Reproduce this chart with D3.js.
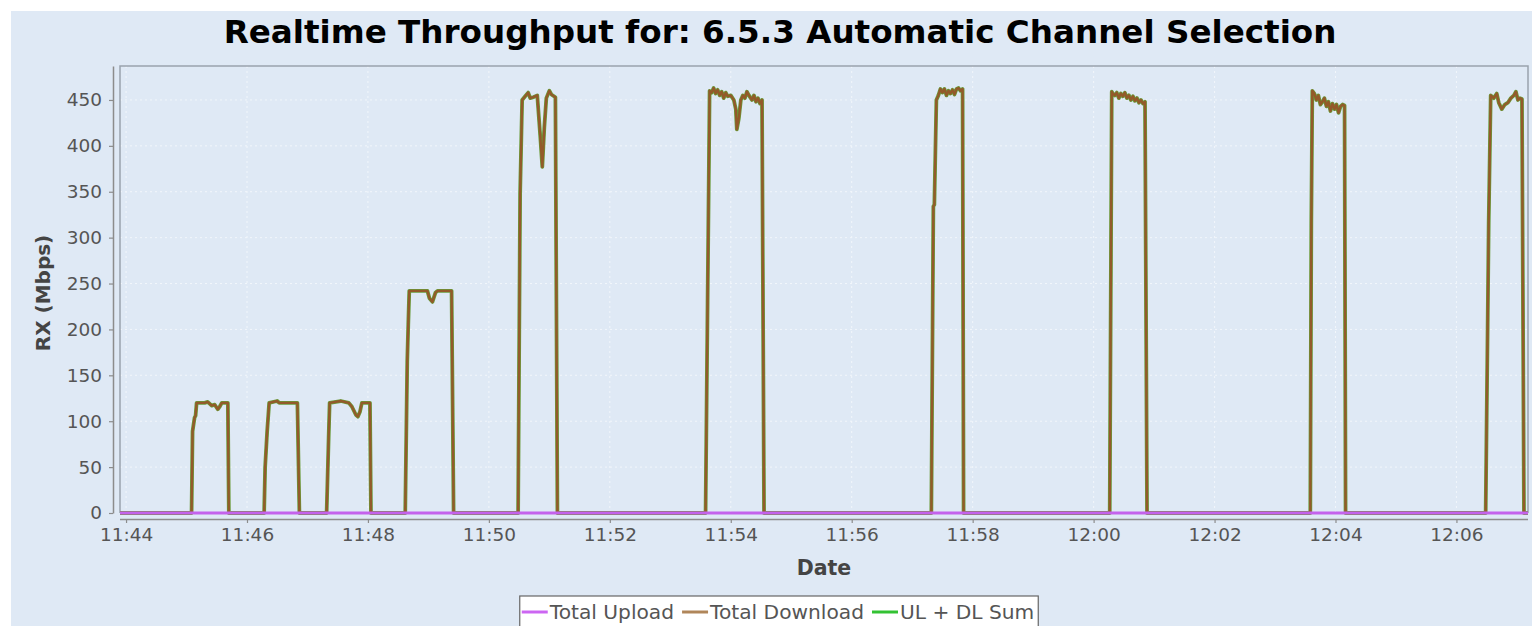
<!DOCTYPE html>
<html>
<head>
<meta charset="utf-8">
<script src="https://cdn.jsdelivr.net/npm/d3@7"></script>
<style>
  html, body { margin: 0; padding: 0; background: #ffffff; }
  svg { display: block; }
  text { font-family: "DejaVu Sans", sans-serif; }
</style>
</head>
<body>
<svg id="chart" width="1532" height="626"></svg>
<script>
// Sample timestamps (one row per test run)
const sampleTimes = [
  "11:43:54",
  "11:45:05","11:45:06","11:45:08","11:45:09","11:45:10","11:45:18","11:45:21","11:45:25","11:45:28","11:45:31","11:45:33","11:45:35","11:45:41","11:45:42",
  "11:46:17","11:46:18","11:46:20","11:46:22","11:46:30","11:46:32","11:46:50","11:46:52",
  "11:47:19","11:47:21","11:47:22","11:47:33","11:47:41","11:47:44","11:47:48","11:47:50","11:47:52","11:47:54","11:48:02","11:48:03",
  "11:48:37","11:48:39","11:48:40","11:48:41","11:48:59","11:49:01","11:49:04","11:49:07","11:49:09","11:49:23","11:49:25",
  "11:50:29","11:50:31","11:50:33","11:50:36","11:50:39","11:50:41","11:50:44","11:50:48","11:50:51","11:50:53","11:50:55","11:50:57","11:51:00","11:51:02","11:51:06","11:51:08",
  "11:53:35","11:53:37","11:53:39","11:53:41","11:53:43","11:53:45","11:53:47","11:53:49","11:53:51","11:53:53","11:53:55","11:53:57","11:54:00","11:54:03","11:54:05","11:54:06","11:54:08","11:54:10","11:54:12","11:54:14","11:54:16","11:54:18","11:54:21","11:54:23","11:54:25","11:54:27","11:54:29","11:54:31","11:54:33",
  "11:57:19","11:57:21","11:57:22","11:57:24","11:57:26","11:57:28","11:57:30","11:57:32","11:57:34","11:57:36","11:57:38","11:57:40","11:57:42","11:57:44","11:57:46","11:57:48","11:57:50","11:57:51",
  "12:00:16","12:00:18","12:00:19","12:00:21","12:00:23","12:00:25","12:00:27","12:00:29","12:00:31","12:00:33","12:00:35","12:00:37","12:00:39","12:00:41","12:00:43","12:00:45","12:00:47","12:00:49","12:00:51","12:00:53",
  "12:03:35","12:03:36","12:03:37","12:03:39","12:03:41","12:03:43","12:03:45","12:03:47","12:03:49","12:03:51","12:03:53","12:03:55","12:03:57","12:03:59","12:04:01","12:04:03","12:04:05","12:04:07","12:04:09","12:04:10",
  "12:06:29","12:06:31","12:06:32","12:06:34","12:06:37","12:06:40","12:06:42","12:06:45","12:06:48","12:06:51","12:06:54","12:06:57","12:06:59","12:07:01","12:07:03","12:07:05","12:07:07",
  "12:07:11"
];

// Total Download, Mbps
const totalDownload = [
  0,
  0,89,104,106,120,120,121,117,118,113,116,120,120,0,
  0,50,89,120,122,120,120,0,
  0,82,120,122,120,116,107,105,110,120,120,0,
  0,165,205,242,242,234,230,240,242,242,0,
  0,348,450,454,458,452,453,455,410,377,420,452,460,456,453,0,
  0,230,460,458,463,457,461,455,459,452,458,454,455,450,440,418,430,450,455,452,459,455,450,455,448,452,446,450,0,
  0,334,336,450,455,462,458,462,455,460,457,461,456,462,463,460,462,0,
  0,459,457,455,458,452,457,454,458,452,455,450,454,449,452,447,450,446,448,0,
  0,316,460,457,450,455,445,448,452,443,448,438,446,440,445,436,443,445,444,0,
  0,208,317,455,452,457,447,440,445,447,452,455,459,450,452,451,0,
  0
];

// Total Upload, Mbps
const totalUpload = [
  0,
  0,0,0,0,0,0,0,0,0,0,0,0,0,0,
  0,0,0,0,0,0,0,0,
  0,0,0,0,0,0,0,0,0,0,0,0,
  0,0,0,0,0,0,0,0,0,0,0,
  0,0,0,0,0,0,0,0,0,0,0,0,0,0,0,0,
  0,0,0,0,0,0,0,0,0,0,0,0,0,0,0,0,0,0,0,0,0,0,0,0,0,0,0,0,0,
  0,0,0,0,0,0,0,0,0,0,0,0,0,0,0,0,0,0,
  0,0,0,0,0,0,0,0,0,0,0,0,0,0,0,0,0,0,0,0,
  0,0,0,0,0,0,0,0,0,0,0,0,0,0,0,0,0,0,0,0,
  0,0,0,0,0,0,0,0,0,0,0,0,0,0,0,0,0,
  0
];

const yTickValues = [0, 50, 100, 150, 200, 250, 300, 350, 400, 450];
const seriesNames = ["Total Upload", "Total Download", "UL + DL Sum"];
const titleText = "Realtime Throughput for: 6.5.3 Automatic Channel Selection";

const parseTime = d3.timeParse("%H:%M:%S");
const rows = sampleTimes.map((s, i) => ({
  t: parseTime(s),
  up: totalUpload[i],
  down: totalDownload[i],
  sum: totalUpload[i] + totalDownload[i]
}));

const svg = d3.select("#chart");
const W = 1532, H = 626;
const plot = { left: 120, right: 1528, top: 66, bottom: 513 };

// panel background
svg.append("rect").attr("x", 11).attr("y", 11).attr("width", W - 11).attr("height", H - 11)
  .attr("fill", "#dfe9f5");

const x = d3.scaleTime()
  .domain(d3.extent(rows, d => d.t))
  .range([plot.left, plot.right]);
const y = d3.scaleLinear()
  .domain([0, 487])
  .range([plot.bottom, plot.top]);

const xTicks = x.ticks(d3.timeMinute.every(2));

// grid
const grid = svg.append("g");
grid.selectAll(".gy").data(yTickValues.filter(v => v > 0)).join("line")
  .attr("x1", plot.left).attr("x2", plot.right)
  .attr("y1", d => y(d)).attr("y2", d => y(d))
  .attr("stroke", "#f2f6fb").attr("stroke-width", 1).attr("stroke-dasharray", "2,3");
grid.selectAll(".gx").data(xTicks).join("line")
  .attr("x1", d => x(d)).attr("x2", d => x(d))
  .attr("y1", plot.top).attr("y2", plot.bottom)
  .attr("stroke", "#f2f6fb").attr("stroke-width", 1).attr("stroke-dasharray", "2,3");

// plot outline
svg.append("path")
  .attr("d", `M${plot.left},${plot.bottom}V${plot.top}H${plot.right}V${plot.bottom}`)
  .attr("fill", "none").attr("stroke", "#9aa3ad").attr("stroke-width", 1.5);

// series lines
svg.append("clipPath").attr("id", "plotClip").append("rect")
  .attr("x", plot.left).attr("y", plot.top - 2)
  .attr("width", plot.right - plot.left).attr("height", plot.bottom - plot.top + 4);

const lineFor = key => d3.line().x(d => x(d.t)).y(d => y(d[key]));
const lines = svg.append("g").attr("clip-path", "url(#plotClip)");
lines.append("path").datum(rows).attr("d", lineFor("sum"))
  .attr("fill", "none").attr("stroke", "#6a9a38").attr("stroke-width", 3.8)
  .attr("stroke-linejoin", "round");
lines.append("path").datum(rows).attr("d", lineFor("down"))
  .attr("fill", "none").attr("stroke", "#935a2a").attr("stroke-width", 2.4)
  .attr("stroke-linejoin", "round");
lines.append("path").datum(rows).attr("d", lineFor("up"))
  .attr("fill", "none").attr("stroke", "#c462ec").attr("stroke-width", 3);

// axes
const axisColor = "#8c8c8c";
const tickColor = "#555555";

const yAxis = svg.append("g").attr("transform", `translate(113,0)`)
  .call(d3.axisLeft(y).tickValues(yTickValues).tickSizeInner(4).tickSizeOuter(0).tickPadding(7));
const xAxis = svg.append("g").attr("transform", `translate(0,519)`)
  .call(d3.axisBottom(x).tickValues(xTicks).tickFormat(d3.timeFormat("%H:%M"))
    .tickSizeInner(4).tickSizeOuter(0).tickPadding(5));
xAxis.select(".domain").attr("d", `M${plot.left},0.5H${plot.right}`);

[yAxis, xAxis].forEach(g => {
  g.select(".domain").attr("stroke", axisColor).attr("stroke-width", 1.5);
  g.selectAll(".tick line").attr("stroke", axisColor).attr("stroke-width", 1.2);
  g.selectAll(".tick text").attr("fill", tickColor)
    .style("font-family", "'DejaVu Sans', sans-serif").style("font-size", "18.5px");
});

// title
svg.append("text").attr("x", 780).attr("y", 43).attr("text-anchor", "middle")
  .style("font-weight", "bold").style("font-size", "32.6px").attr("fill", "#000")
  .text(titleText);

// axis titles
svg.append("text").attr("x", 824).attr("y", 575).attr("text-anchor", "middle")
  .style("font-weight", "bold").style("font-size", "20.5px").attr("fill", "#444")
  .text("Date");
svg.append("text").attr("transform", "translate(50,293) rotate(-90)").attr("text-anchor", "middle")
  .style("font-weight", "bold").style("font-size", "20px").attr("fill", "#444")
  .text("RX (Mbps)");

// legend
const legendColors = ["#cc66f2", "#b0865a", "#33c233"];
const legend = svg.append("g");
const legendBox = legend.append("rect").attr("y", 596).attr("height", 40)
  .attr("fill", "#ffffff").attr("stroke", "#666").attr("stroke-width", 1.2);
let cx = 0;
seriesNames.forEach((name, i) => {
  const g = legend.append("g");
  g.append("line").attr("x1", cx).attr("x2", cx + 26).attr("y1", 612).attr("y2", 612)
    .attr("stroke", legendColors[i]).attr("stroke-width", 3);
  const t = g.append("text").attr("x", cx + 28).attr("y", 619)
    .style("font-size", "20.2px").attr("fill", "#555").text(name);
  cx += 28 + t.node().getComputedTextLength() + 8;
});
const legendWidth = cx - 8 + 6;
const legendLeft = 779 - legendWidth / 2;
legend.selectAll("g").attr("transform", `translate(${legendLeft + 2},0)`);
legendBox.attr("x", legendLeft).attr("width", legendWidth);
</script>
</body>
</html>
